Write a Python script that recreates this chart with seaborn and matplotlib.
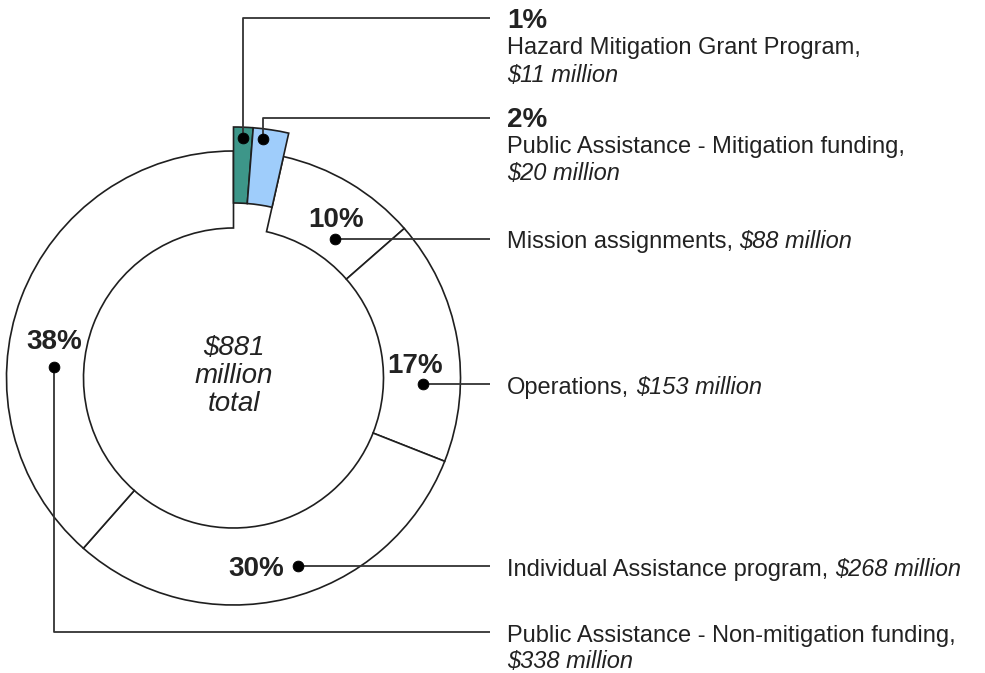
import matplotlib
matplotlib.use("Agg")
import matplotlib.pyplot as plt
import seaborn as sns

# Disaster spending by program ($ millions)
categories = [
    "Hazard Mitigation Grant Program",
    "Public Assistance - Mitigation funding",
    "Mission assignments",
    "Operations",
    "Individual Assistance program",
    "Public Assistance - Non-mitigation funding",
]
amounts = [11, 20, 88, 153, 268, 338]
total_amount = 881
popped_out = [True, True, False, False, False, False]
fill_colors = ["#3d9689", "#9fcdfb", "white", "white", "white", "white"]

sns.set_theme(style="white")
plt.rcParams["font.family"] = ["Liberation Sans", "DejaVu Sans"]

W, H = 985, 673
fig = plt.figure(figsize=(W / 100, H / 100), dpi=100)
ax = fig.add_axes([0, 0, 1, 1])


def Y(py):
    return H - py


TXT = "#222222"
LINE = "#333333"
EDGE = "#1f1f1f"

# donut: main ring, plus an outer ring holding the popped-out slices
cx, cy = 233.5, Y(378)
rings = [(227, 77, False), (251, 76, True)]
for radius, width, show_popped in rings:
    wedges, _ = ax.pie(
        amounts, colors=fill_colors, startangle=90, counterclock=False,
        radius=radius, center=(cx, cy),
        wedgeprops=dict(width=width, edgecolor=EDGE, linewidth=1.2),
    )
    for wdg, popped in zip(wedges, popped_out):
        wdg.set_visible(popped == show_popped)

ax.set_xlim(0, W)
ax.set_ylim(0, H)
ax.set_aspect("equal")
ax.axis("off")

# centre total
center_lines = [f"${total_amount}", "million", "total"]
for txt, base in zip(center_lines, [355, 383, 411]):
    ax.text(cx, Y(base), txt, ha="center", va="baseline", fontsize=20,
            style="italic", color=TXT)

# callouts: dot anchor, leader path, percent label spot
dots = [(242.7, 137.7), (262.7, 139.3), (335, 239), (423, 384.3),
        (298, 565.5), (54, 366.5)]
leaders = [
    [(242.7, 137.7), (242.7, 18.3), (490, 18.3)],
    [(262.7, 139.3), (262.7, 117.7), (490, 117.7)],
    [(335, 239), (490, 239)],
    [(423, 384.3), (490, 384.3)],
    [(298, 565.5), (490, 565.5)],
    [(54, 366.5), (54, 632.3), (490, 632.3)],
]
pct_spots = [(507, 28.3, "left"), (507, 126.7, "left"), (336, 227, "center"),
             (415, 373.3, "center"), (256.5, 576, "center"), (54, 349.3, "center")]
# baselines of the description lines; two entries = name and amount on separate lines
desc_base = [(54.3, 81.7), (153.3, 180), (248.3,), (394,), (576,), (641.7, 668.5)]

for path in leaders:
    xs = [p[0] for p in path]
    ys = [Y(p[1]) for p in path]
    ax.plot(xs, ys, color=LINE, lw=1.3, solid_capstyle="butt", zorder=4)

sns.scatterplot(x=[d[0] for d in dots], y=[Y(d[1]) for d in dots], s=60,
                color="black", edgecolor=None, legend=False, ax=ax, zorder=6)
ax.set_xlim(0, W)
ax.set_ylim(0, H)
ax.axis("off")

fig.canvas.draw()
renderer = fig.canvas.get_renderer()
LABEL_FS = 17
space_w = 0.278 * LABEL_FS * 100 / 72

for name, val, (px, pb, ha), bases in zip(categories, amounts, pct_spots, desc_base):
    pct = round(val / total_amount * 100)
    ax.text(px, Y(pb), f"{pct}%", ha=ha, va="baseline", fontsize=20,
            fontweight="bold", color=TXT)
    amount_txt = f"${val} million"
    if len(bases) == 2:
        ax.text(507, Y(bases[0]), name + ",", ha="left", va="baseline",
                fontsize=LABEL_FS, color=TXT)
        ax.text(507, Y(bases[1]), amount_txt, ha="left", va="baseline",
                fontsize=LABEL_FS, style="italic", color=TXT)
    else:
        t = ax.text(507, Y(bases[0]), name + ",", ha="left", va="baseline",
                    fontsize=LABEL_FS, color=TXT)
        ext = t.get_window_extent(renderer)
        x_end = ax.transData.inverted().transform((ext.x1, ext.y0))[0]
        ax.text(x_end + space_w, Y(bases[0]), amount_txt, ha="left",
                va="baseline", fontsize=LABEL_FS, style="italic", color=TXT)

fig.savefig("out.png", dpi=100, facecolor="white")
